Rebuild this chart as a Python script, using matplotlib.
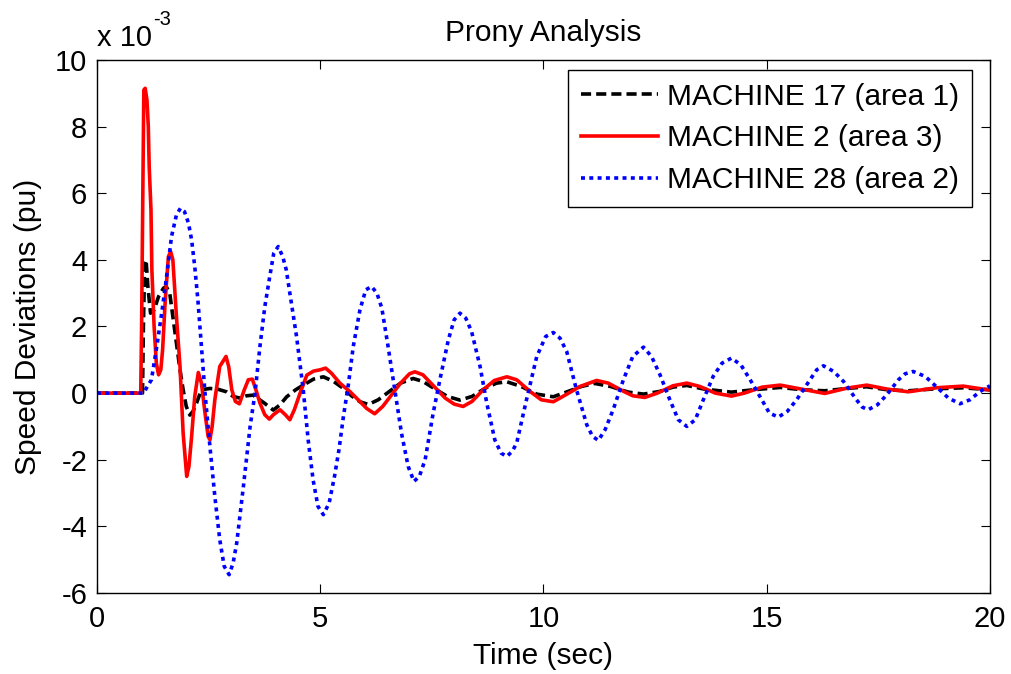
import matplotlib
matplotlib.use("Agg")
import matplotlib.pyplot as plt

plt.rcParams['font.family'] = ['Liberation Sans', 'DejaVu Sans']
plt.rcParams['axes.unicode_minus'] = False

# Speed deviations in units of 1e-3 pu, sampled along the time axis (sec)
t_m17 = [0, 1.02, 1.04, 1.07, 1.10, 1.14, 1.20, 1.28, 1.38, 1.49, 1.55, 1.63, 1.70, 1.78,
         1.86, 1.93, 2.00, 2.08, 2.15, 2.23, 2.34, 2.53, 2.70, 2.90, 3.05, 3.20, 3.35, 3.50,
         3.75, 3.95, 4.10, 4.25, 4.45, 4.62, 4.85, 5.07, 5.30, 5.52, 5.70, 5.89, 6.08, 6.30,
         6.55, 6.80, 7.08, 7.30, 7.60, 7.85, 8.13, 8.40, 8.70, 8.95, 9.18, 9.50, 9.85, 10.22,
         10.55, 10.85, 11.15, 11.50, 11.90, 12.24, 12.60, 12.90, 13.21, 13.60, 14.21, 14.70,
         15.30, 15.80, 16.30, 16.80, 17.24, 17.70, 18.17, 18.80, 19.40, 20.0]
v_m17 = [0, 0, 2.0, 3.9, 4.0, 3.2, 2.4, 2.5, 2.9, 3.15, 3.2, 3.0, 2.3, 1.5,
         0.7, 0.1, -0.4, -0.66, -0.55, -0.3, 0.1, 0.14, 0.12, 0.04, -0.1, -0.15, -0.08, -0.06,
         -0.3, -0.51, -0.35, -0.11, 0.1, 0.24, 0.42, 0.49, 0.35, 0.14, -0.08, -0.26, -0.34, -0.2,
         0.05, 0.3, 0.44, 0.35, 0.1, -0.1, -0.21, -0.1, 0.15, 0.3, 0.34, 0.2, -0.03, -0.11,
         0.05, 0.2, 0.29, 0.2, 0.03, -0.03, 0.05, 0.18, 0.23, 0.12, 0.03, 0.1,
         0.17, 0.1, 0.07, 0.14, 0.19, 0.1, 0.07, 0.13, 0.16, 0.1]

t_m2 = [0, 0.98, 1.00, 1.03, 1.05, 1.08, 1.12, 1.15, 1.17, 1.21, 1.23, 1.28, 1.33, 1.38,
        1.43, 1.47, 1.53, 1.60, 1.65, 1.70, 1.78, 1.86, 1.93, 2.01, 2.06, 2.12, 2.19, 2.27,
        2.34, 2.42, 2.49, 2.53, 2.58, 2.64, 2.75, 2.89, 2.95, 3.02, 3.10, 3.19, 3.30, 3.39,
        3.48, 3.56, 3.65, 3.76, 3.86, 3.95, 4.10, 4.22, 4.32, 4.42, 4.55, 4.70, 4.85, 5.00,
        5.12, 5.25, 5.44, 5.67, 5.85, 6.04, 6.22, 6.40, 6.60, 6.80, 7.00, 7.12, 7.30, 7.55,
        7.80, 8.00, 8.20, 8.40, 8.65, 8.90, 9.18, 9.40, 9.70, 9.95, 10.22, 10.50, 10.82,
        11.19, 11.45, 11.80, 12.00, 12.27, 12.55, 12.90, 13.21, 13.50, 13.85, 14.21, 14.50,
        14.90, 15.30, 15.70, 16.30, 16.80, 17.24, 17.70, 18.17, 18.80, 19.40, 20.0]
v_m2 = [0, 0, 2.0, 6.4, 9.1, 9.15, 8.8, 8.0, 6.8, 5.5, 3.7, 2.0, 0.9, 0.55,
        0.7, 1.3, 2.8, 4.1, 4.25, 4.0, 2.3, 0.8, -1.2, -2.5, -2.2, -1.3, -0.1, 0.62,
        0.3, -0.6, -1.3, -1.4, -1.0, -0.2, 0.8, 1.1, 0.8, 0.1, -0.25, -0.32, 0.1, 0.4,
        0.42, 0.1, -0.3, -0.65, -0.78, -0.65, -0.5, -0.65, -0.8, -0.5, 0.0, 0.54, 0.66, 0.7,
        0.75, 0.6, 0.3, 0.04, -0.2, -0.46, -0.62, -0.4, -0.05, 0.3, 0.58, 0.64, 0.55, 0.2,
        -0.15, -0.33, -0.4, -0.25, 0.1, 0.38, 0.49, 0.4, 0.05, -0.2, -0.26, -0.05, 0.2,
        0.38, 0.3, 0.05, -0.08, -0.13, 0.0, 0.22, 0.3, 0.2, 0.0, -0.09, 0.0,
        0.18, 0.24, 0.14, -0.01, 0.15, 0.24, 0.12, 0.04, 0.16, 0.21, 0.09]

t_m28 = [0, 1.04, 1.22, 1.34, 1.45, 1.55, 1.67, 1.78, 1.87, 1.96, 2.05, 2.12, 2.19, 2.26,
         2.34, 2.42, 2.53, 2.64, 2.75, 2.85, 2.96, 3.05, 3.13, 3.28, 3.43, 3.54, 3.65, 3.76,
         3.87, 3.96, 4.06, 4.16, 4.24, 4.32, 4.47, 4.62, 4.73, 4.84, 4.95, 5.07, 5.20, 5.32,
         5.42, 5.52, 5.63, 5.74, 5.89, 6.02, 6.15, 6.27, 6.38, 6.52, 6.67, 6.82, 6.97, 7.10,
         7.22, 7.35, 7.53, 7.68, 7.87, 8.00, 8.13, 8.26, 8.39, 8.58, 8.73, 8.91, 9.05, 9.18,
         9.30, 9.40, 9.62, 9.85, 10.05, 10.22, 10.37, 10.52, 10.74, 10.97, 11.10, 11.23,
         11.38, 11.56, 11.79, 12.00, 12.24, 12.42, 12.61, 12.83, 13.02, 13.21, 13.40, 13.58,
         13.80, 14.00, 14.21, 14.42, 14.63, 14.89, 15.06, 15.26, 15.46, 15.67, 15.97, 16.12,
         16.27, 16.50, 16.72, 17.01, 17.14, 17.27, 17.48, 17.69, 17.95, 18.10, 18.28, 18.55,
         18.81, 19.07, 19.33, 19.55, 19.78, 20.0]
v_m28 = [0, 0, 0.4, 1.4, 2.4, 3.4, 4.7, 5.35, 5.55, 5.45, 5.1, 4.6, 3.8, 2.8,
         1.4, 0.0, -1.6, -3.1, -4.4, -5.2, -5.45, -5.1, -4.5, -2.8, -1.0, 0.0, 1.4, 2.6,
         3.5, 4.2, 4.4, 4.1, 3.7, 3.0, 1.7, 0.1, -1.4, -2.6, -3.4, -3.65, -3.3, -2.5,
         -1.7, -0.7, 0.25, 1.4, 2.5, 3.1, 3.2, 3.0, 2.55, 1.4, 0.1, -1.2, -2.2, -2.65,
         -2.5, -2.0, -0.6, 0.4, 1.6, 2.2, 2.4, 2.25, 1.85, 0.8, -0.3, -1.4, -1.8, -1.9,
         -1.75, -1.5, -0.2, 1.1, 1.7, 1.82, 1.65, 1.25, 0.1, -0.95, -1.3, -1.42,
         -1.1, -0.5, 0.4, 1.1, 1.38, 1.1, 0.55, -0.2, -0.8, -1.0, -0.8, -0.2,
         0.5, 0.9, 1.05, 0.85, 0.4, -0.2, -0.6, -0.72, -0.55, -0.2, 0.4, 0.7,
         0.82, 0.65, 0.35, -0.2, -0.42, -0.5, -0.35, -0.05, 0.4, 0.58, 0.65, 0.5,
         0.18, -0.15, -0.32, -0.2, 0.05, 0.22]

labels = ['MACHINE 17 (area 1)', 'MACHINE 2 (area 3)', 'MACHINE 28 (area 2)']
x_ticks = [0, 5, 10, 15, 20]
y_ticks = [-6, -4, -2, 0, 2, 4, 6, 8, 10]

fig = plt.figure(figsize=(10.11, 6.74), dpi=100)
ax = fig.add_axes([0.0959, 0.1202, 0.8833, 0.7908])

LW = 2.6
ax.plot(t_m17, v_m17, color='black', lw=LW, linestyle=(0, (2.8, 1.4)), label=labels[0])
ax.plot(t_m2, v_m2, color='red', lw=LW, label=labels[1])
ax.plot(t_m28, v_m28, color='blue', lw=LW, linestyle=(0, (1.1, 1.2)),
        dash_capstyle='butt', label=labels[2])

ax.set_xlim(0, 20)
ax.set_ylim(-6, 10)
ax.set_xticks(x_ticks)
ax.set_yticks(y_ticks)
ax.tick_params(direction='in', length=6.5, width=0.8, top=True, right=True,
               labelsize=21)
ax.tick_params(axis='y', pad=7)
ax.tick_params(axis='x', pad=9)
for s in ax.spines.values():
    s.set_linewidth(1.0)

ax.set_title('Prony Analysis', fontsize=21.5, pad=14)
ax.set_xlabel('Time (sec)', fontsize=21.5, labelpad=6)
ax.set_ylabel('Speed Deviations (pu)', fontsize=21.5, labelpad=9)

# exponent marker for the y axis
base = ax.annotate('x 10', xy=(0, 1), xycoords='axes fraction', xytext=(0, 10),
                   textcoords='offset points', fontsize=21, ha='left', va='baseline')
ax.annotate('-3', xy=(1, 1), xycoords=base, xytext=(1, -1), textcoords='offset points',
            fontsize=14.5, ha='left', va='baseline')

leg = ax.legend(loc='upper right', bbox_to_anchor=(0.9795, 0.9812), fontsize=21.5,
                handlelength=2.58, handletextpad=0.3, labelspacing=0.46,
                borderpad=0.42, borderaxespad=0, fancybox=False, framealpha=1,
                edgecolor='black')
leg.get_frame().set_linewidth(1.0)

fig.savefig('out.png', dpi=100)
